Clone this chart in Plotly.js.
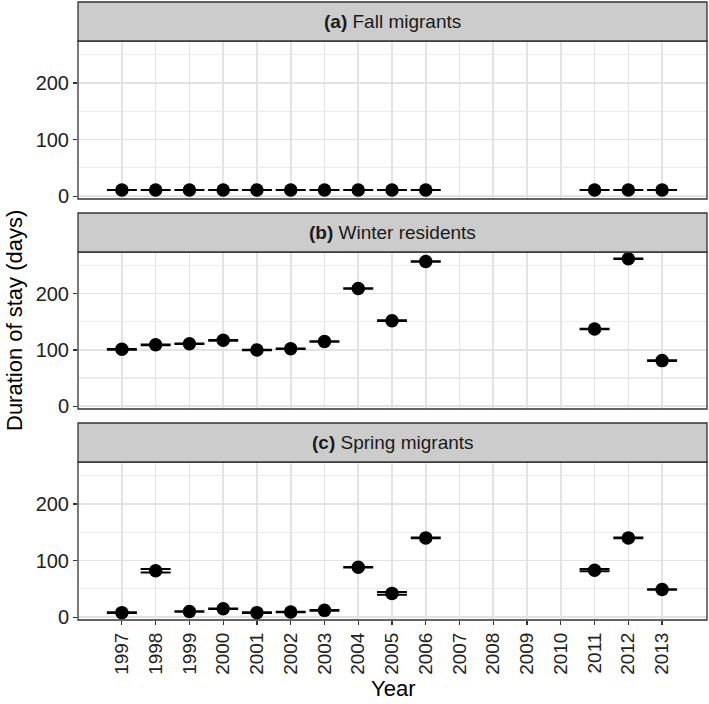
<!DOCTYPE html>
<html>
<head>
<meta charset="utf-8">
<script src="https://cdn.plot.ly/plotly-3.0.1.min.js"></script>
<style>html,body{margin:0;padding:0;background:#fff;}</style>
</head>
<body>
<div id="chart" style="width:709px;height:704px;"></div>
<script>
// ---- data ----
const years = [1997,1998,1999,2000,2001,2002,2003,2004,2005,2006,2007,2008,2009,2010,2011,2012,2013];
const panelLabels = ["(a)", "(b)", "(c)"];
const panelNames = ["Fall migrants", "Winter residents", "Spring migrants"];

const fallYears = [1997,1998,1999,2000,2001,2002,2003,2004,2005,2006,2011,2012,2013];
const fallDays  = [11,11,11,11,11,11,11,11,11,11,11,11,11];
const fallErr   = [0,0,0,0,0,0,0,0,0,0,0,0,0];

const winterYears = [1997,1998,1999,2000,2001,2002,2003,2004,2005,2006,2011,2012,2013];
const winterDays  = [101,109,111,117,100,102,115,209,152,257,137,262,81];
const winterErr   = [0.5,0.5,0.5,0.5,0.5,0.5,0.5,0.5,0.5,0.5,0.5,0.5,0.5];

const springYears = [1997,1998,1999,2000,2001,2002,2003,2004,2005,2006,2011,2012,2013];
const springDays  = [8,82,10,15,8,9,12,88,42,140,83,140,49];
const springErr   = [0.5,3,0.5,0.5,0.5,0.5,0.5,0.5,2.5,0.5,2,0.5,0.5];

const yTicks = [0,100,200];

// ---- layout geometry ----
const W = 709, H = 704;
const mL = 78, mR = 2, mT = 2, mB = 84;
const plotH = H - mT - mB;
const py = px => (H - mB - px) / plotH; // pixel y -> paper fraction
const panels = [
  {plotTop: 41, plotBot: 199, stripTop: 2},
  {plotTop: 252, plotBot: 409, stripTop: 213},
  {plotTop: 462, plotBot: 620, stripTop: 423}
];

const series = [
  {x: fallYears, y: fallDays, e: fallErr},
  {x: winterYears, y: winterDays, e: winterErr},
  {x: springYears, y: springDays, e: springErr}
];

const traces = series.map((s, i) => ({
  type: 'scatter', mode: 'markers',
  x: s.x, y: s.y,
  xaxis: i === 0 ? 'x' : 'x' + (i + 1),
  yaxis: i === 0 ? 'y' : 'y' + (i + 1),
  marker: {color: '#000', size: 13.5},
  error_y: {type: 'data', array: s.e, visible: true, color: '#000', thickness: 2, width: 15},
  hoverinfo: 'x+y', showlegend: false
}));

const gridColor = '#e3e3e3';
const layout = {
  width: W, height: H,
  margin: {l: mL, r: mR, t: mT, b: mB},
  paper_bgcolor: '#fff', plot_bgcolor: '#fff',
  font: {family: 'Liberation Sans, Arial, sans-serif', color: '#222'},
  shapes: [], annotations: []
};

panels.forEach((p, i) => {
  const xk = i === 0 ? 'xaxis' : 'xaxis' + (i + 1);
  const yk = i === 0 ? 'yaxis' : 'yaxis' + (i + 1);
  const isBottom = i === 2;
  layout[xk] = {
    domain: [0, 1],
    anchor: i === 0 ? 'y' : 'y' + (i + 1),
    range: [1995.7, 2014.33],
    tickvals: years,
    ticktext: years.map(String),
    showticklabels: isBottom,
    ticks: isBottom ? 'outside' : '',
    ticklen: 4, tickcolor: '#333', tickwidth: 1.2,
    tickangle: -90,
    tickfont: {size: 19, color: '#222'},
    showgrid: true, gridcolor: gridColor, gridwidth: 1.6,
    zeroline: false, showline: false
  };
  layout[yk] = {
    domain: [py(p.plotBot), py(p.plotTop)],
    anchor: i === 0 ? 'x' : 'x' + (i + 1),
    range: [-5, 274],
    tickvals: yTicks,
    ticks: 'outside', ticklen: 4, tickcolor: '#333', tickwidth: 1.2,
    tickfont: {size: 20, color: '#222'},
    showgrid: true, gridcolor: gridColor, gridwidth: 1.6,
    minor: {dtick: 50, tick0: 0, showgrid: true, gridcolor: '#ececec', gridwidth: 1.1, ticks: ''},
    zeroline: false, showline: false
  };
  // panel border
  layout.shapes.push({type: 'rect', xref: 'paper', yref: 'paper',
    x0: 0, x1: 1, y0: py(p.plotBot), y1: py(p.plotTop),
    line: {color: '#333', width: 1.3}, fillcolor: 'rgba(0,0,0,0)', layer: 'above'});
  // strip
  layout.shapes.push({type: 'rect', xref: 'paper', yref: 'paper',
    x0: 0, x1: 1, y0: py(p.plotTop), y1: py(p.stripTop),
    line: {color: '#333', width: 1.3}, fillcolor: '#cccccc', layer: 'above'});
  layout.annotations.push({
    xref: 'paper', yref: 'paper', x: 0.5, y: (py(p.plotTop) + py(p.stripTop)) / 2,
    xanchor: 'center', yanchor: 'middle', showarrow: false,
    text: '<b>' + panelLabels[i] + '</b> ' + panelNames[i],
    font: {size: 19, color: '#1a1a1a'}
  });
});

layout.annotations.push({
  xref: 'paper', yref: 'paper', x: (15 - mL) / (W - mL - mR), y: py(321),
  xanchor: 'center', yanchor: 'middle', showarrow: false, textangle: -90,
  text: 'Duration of stay (days)', font: {size: 22, color: '#000'}
});
layout.annotations.push({
  xref: 'paper', yref: 'paper', x: 0.5, y: py(688),
  xanchor: 'center', yanchor: 'middle', showarrow: false,
  text: 'Year', font: {size: 22, color: '#000'}
});

Plotly.newPlot('chart', traces, layout, {displayModeBar: false, staticPlot: true});
</script>
</body>
</html>
